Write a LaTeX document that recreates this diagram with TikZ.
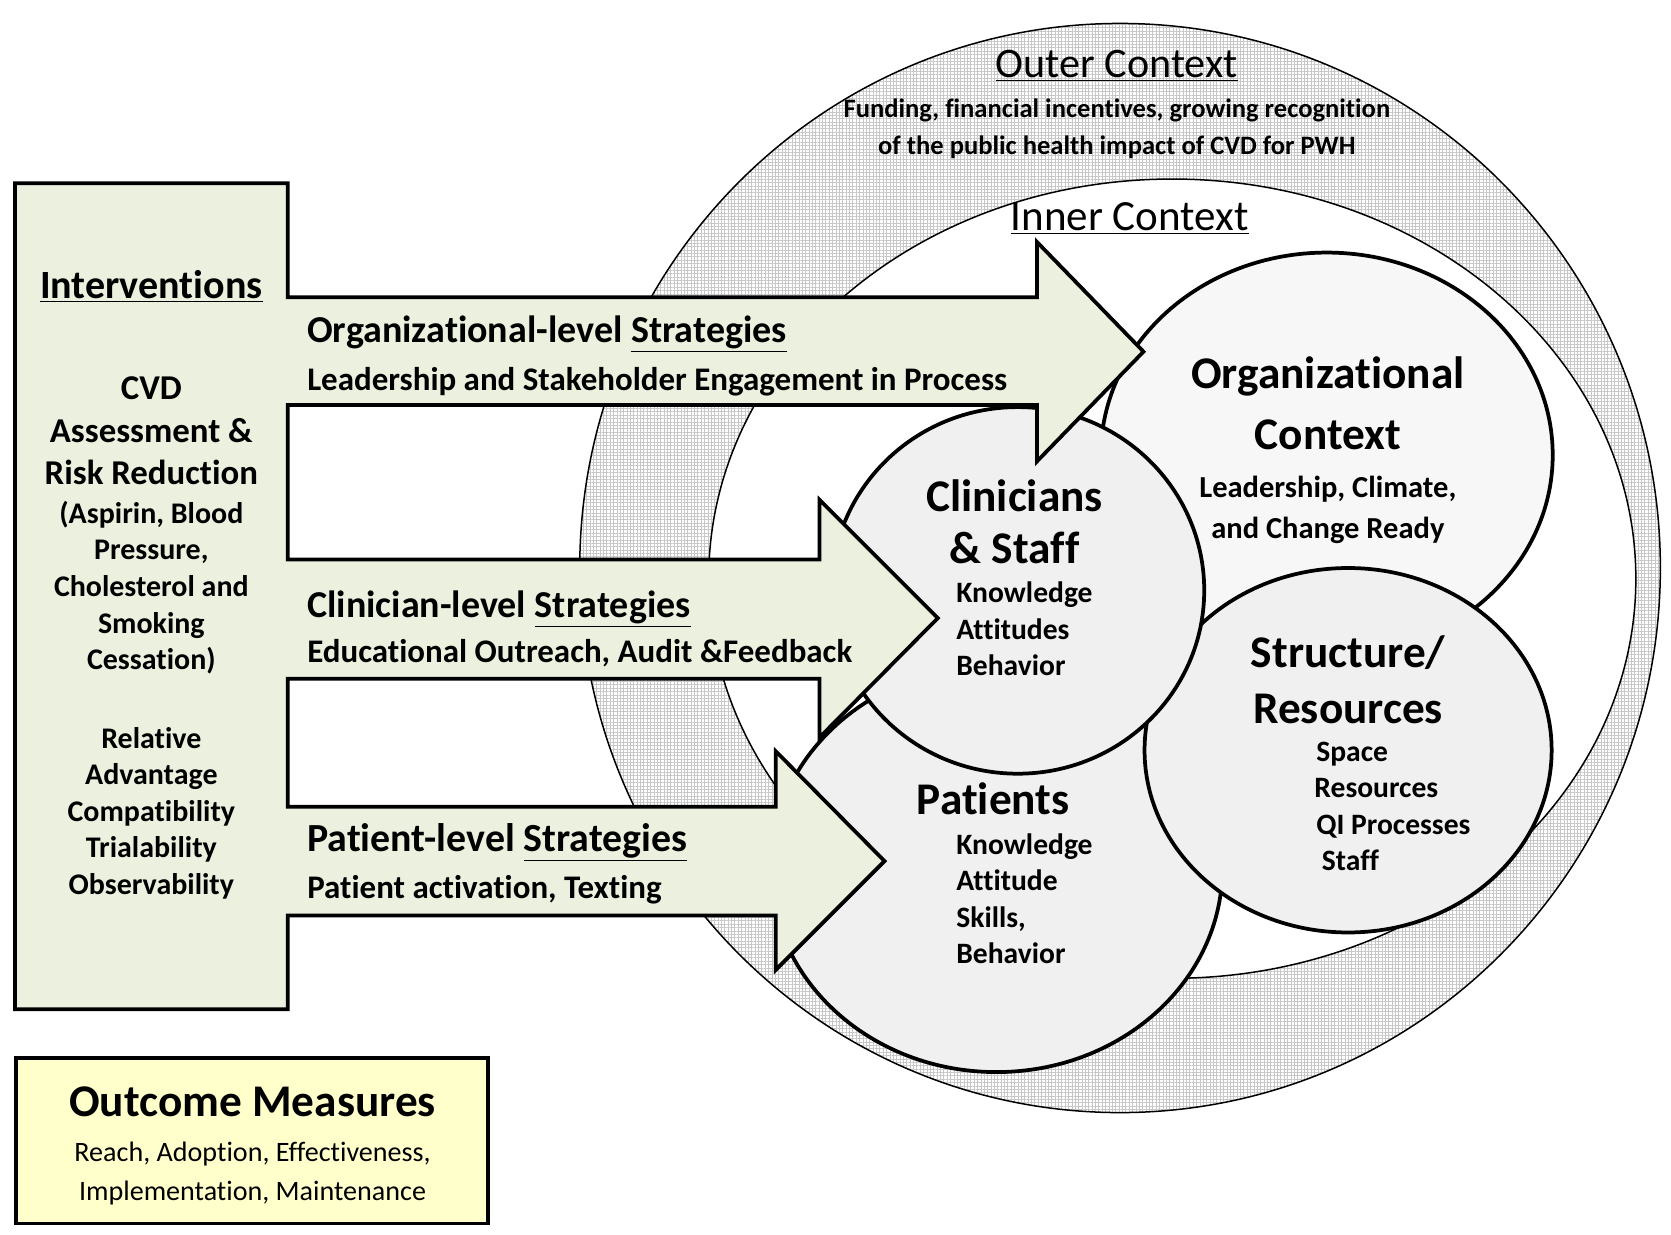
\documentclass[tikz,border=0pt]{standalone}
\usepackage{fontspec}
\setmainfont[Ligatures=NoCommon]{Carlito}
\usepackage{xcolor}
\usepackage{tikz}
\usetikzlibrary{patterns.meta}

\definecolor{intgreen}{HTML}{EBF1DE}
\definecolor{outyellow}{HTML}{FFFFCC}
\definecolor{ctxgray}{HTML}{F0F0F0}
\definecolor{orggray}{HTML}{F7F7F7}

\newcommand{\setfs}[2]{\fontsize{#1}{#2}\selectfont}

\begin{document}
\begin{tikzpicture}[x=0.02cm, y=-0.02cm,
    ringline/.style={line width=0.8pt},
    blob/.style={line width=2pt, draw=black},
    ctxhead/.style={inner sep=0pt, anchor=base, font=\setfs{22.5}{27}},
    strathead/.style={inner sep=0pt, anchor=base west, font=\bfseries\setfs{20.3}{24}},
    stratsub/.style={inner sep=0pt, anchor=base west, font=\bfseries\setfs{17.6}{21}},
    circhead/.style={inner sep=0pt, align=center, anchor=north, font=\bfseries\setfs{24.2}{#1}},
    circitem/.style={inner sep=0pt, align=left, anchor=north west, font=\bfseries\setfs{15.8}{19.4}},
    intvtext/.style={inner sep=0pt, align=center, anchor=north, font=\bfseries\setfs{16}{19.5}}]
    \useasboundingbox (0,0) rectangle (1568,1158);

    % Outer context ring
    \draw[ringline, preaction={fill=white}, pattern={Hatch[distance=1.8pt, line width=0.25pt]}, pattern color=black!22]
        (1051,533) ellipse [x radius=507, y radius=511];
    % Inner context
    \draw[ringline, fill=white] (1100,543) ellipse [x radius=435, y radius=375];

    \node[ctxhead] (outerhead) at (1048,73) {\underline{Outer Context}};
    \node[inner sep=0pt, align=center, anchor=north, font=\bfseries\setfs{14.2}{19.9}] (outertext) at (1048,92)
        {Funding, financial incentives, growing recognition\\of the public health impact of CVD for PWH};
    \node[ctxhead, font=\setfs{23}{27}] (innerhead) at (1060,216) {\underline{Inner Context}};

    % Context circles
    \draw[blob, fill=orggray] (1245,427) ellipse [x radius=212, y radius=190];
    \draw[blob, fill=ctxgray] (935,815) ellipse [x radius=212, y radius=191];
    \draw[blob, fill=ctxgray] (1265,704) ellipse [x radius=191, y radius=171];
    \draw[blob, fill=ctxgray] (955,554) ellipse [x radius=175, y radius=172];

    % Organizational context
    \node[circhead=33pt] (orghead) at (1246,334) {Organizational\\Context};
    \node[circitem, align=center, anchor=north, font=\bfseries\setfs{16.3}{22.2}] (orgitems) at (1246,446)
        {Leadership, Climate,\\and Change Ready};

    % Clinicians & Staff
    \node[circhead=27.9pt] (clinhead) at (952,450) {Clinicians\\\& Staff};
    \node[circitem] (clinitems) at (897,546) {Knowledge\\Attitudes\\Behavior};

    % Patients
    \node[circhead=28pt, anchor=base] (pathead) at (932,764) {Patients};
    \node[circitem] (patitems) at (897,782) {Knowledge\\Attitude\\Skills,\\Behavior};

    % Structure/Resources
    \node[circhead=30pt] (structhead) at (1265,596) {Structure/\\Resources};
    \node[circitem] (structitems) at (1233,696) {\hspace{1pt}Space\\Resources\\\hspace{1pt}QI Processes\\\hspace{4pt}Staff};

    % Interventions box with the three strategy arrows
    \draw[blob, fill=intgreen, line join=miter]
        (14,172) -- (270,172) -- (270,279)
        -- (973,279) -- (973,227) -- (1073,330) -- (973,433) -- (973,380) -- (270,380)
        -- (270,525) -- (769,525) -- (769,469) -- (880,580) -- (769,692) -- (769,637) -- (270,637)
        -- (270,757) -- (728,757) -- (728,705) -- (830,808) -- (728,910) -- (728,859) -- (270,859)
        -- (270,947) -- (14,947) -- cycle;

    \node[inner sep=0pt, anchor=base, font=\bfseries\setfs{21.4}{25}] (intvhead) at (142,280) {\underline{Interventions}};
    \node[intvtext, font=\bfseries\setfs{18.6}{22.8}] (cvd) at (142,353) {CVD\\Assessment \&\\Risk Reduction};
    \node[intvtext] (riskitems) at (142,470) {(Aspirin, Blood\\Pressure,\\Cholesterol and\\Smoking\\Cessation)};
    \node[intvtext] (attrs) at (142,682) {Relative\\Advantage\\Compatibility\\Trialability\\Observability};

    % Strategy labels
    \node[strathead] (orgstrat) at (288,321) {Organizational-level \underline{Strategies}};
    \node[stratsub] (orgsub) at (288,366) {Leadership and Stakeholder Engagement in Process};
    \node[strathead] (clinstrat) at (288,579) {Clinician-level \underline{Strategies}};
    \node[stratsub] (clinsub) at (288,622) {Educational Outreach, Audit \&Feedback};
    \node[strathead, font=\bfseries\setfs{21.3}{25}] (patstrat) at (288,799) {Patient-level \underline{Strategies}};
    \node[stratsub] (patsub) at (288,843) {Patient activation, Texting};

    % Outcome measures
    \draw[blob, fill=outyellow] (15,993) rectangle (458,1148);
    \node[inner sep=0pt, anchor=base, font=\bfseries\setfs{24.2}{28}] (outhead) at (237,1048) {Outcome Measures};
    \node[inner sep=0pt, align=center, anchor=north, font=\setfs{15}{21}] (outitems) at (237,1071)
        {Reach, Adoption, Effectiveness,\\Implementation, Maintenance};
\end{tikzpicture}
\end{document}
